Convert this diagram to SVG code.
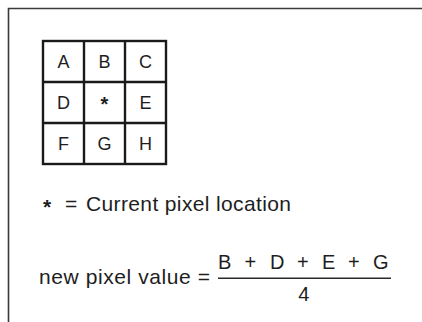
<svg xmlns="http://www.w3.org/2000/svg" width="422" height="322" viewBox="0 0 422 322">
  <style>
    .frame { fill: none; stroke: #3a3a3a; stroke-width: 1.6; }
    .grid { fill: none; stroke: #1a1a1a; stroke-width: 2.4; }
    .cell { font-family: "Liberation Sans", Arial, sans-serif; font-size: 18px; fill: #1e1e1e; text-anchor: middle; }
    .txt { font-family: "Liberation Sans", Arial, sans-serif; font-size: 21px; fill: #1e1e1e; }
    .num { font-family: "Liberation Sans", Arial, sans-serif; font-size: 20px; fill: #1e1e1e; }
    .star { font-weight: bold; }
  </style>
  <rect width="422" height="322" fill="#ffffff"/>
  <g id="frame">
    <path class="frame" d="M8.5,322 L8.5,8.5 L422,8.5"/>
  </g>
  <g id="pixel-grid">
    <rect class="grid" x="43" y="41" width="123" height="123"/>
    <line class="grid" x1="84" y1="41" x2="84" y2="164"/>
    <line class="grid" x1="125" y1="41" x2="125" y2="164"/>
    <line class="grid" x1="43" y1="82" x2="166" y2="82"/>
    <line class="grid" x1="43" y1="123" x2="166" y2="123"/>
    <g id="cell-A"><text class="cell" x="63.5" y="67.5">A</text></g>
    <g id="cell-B"><text class="cell" x="104.5" y="67.5">B</text></g>
    <g id="cell-C"><text class="cell" x="145.5" y="67.5">C</text></g>
    <g id="cell-D"><text class="cell" x="63.5" y="108.5">D</text></g>
    <g id="cell-current"><text class="cell star" x="104.5" y="110.5" style="font-size:20px">*</text></g>
    <g id="cell-E"><text class="cell" x="145.5" y="108.5">E</text></g>
    <g id="cell-F"><text class="cell" x="63.5" y="149.5">F</text></g>
    <g id="cell-G"><text class="cell" x="104.5" y="149.5">G</text></g>
    <g id="cell-H"><text class="cell" x="145.5" y="149.5">H</text></g>
  </g>
  <g id="legend">
    <text class="txt star" x="43" y="213.5">*</text>
    <text class="txt" x="65" y="211">=</text>
    <text class="txt" x="86" y="211" textLength="205" lengthAdjust="spacing">Current pixel location</text>
  </g>
  <g id="formula">
    <text class="txt" x="39" y="284" textLength="171" lengthAdjust="spacing">new pixel value =</text>
    <text class="num" x="218 244.5 270 297 322 348 373" y="268.5">B+D+E+G</text>
    <line x1="218" y1="278.3" x2="391" y2="278.3" stroke="#2a2a2a" stroke-width="1.6"/>
    <text class="num" x="303.7" y="301" text-anchor="middle">4</text>
  </g>
</svg>
